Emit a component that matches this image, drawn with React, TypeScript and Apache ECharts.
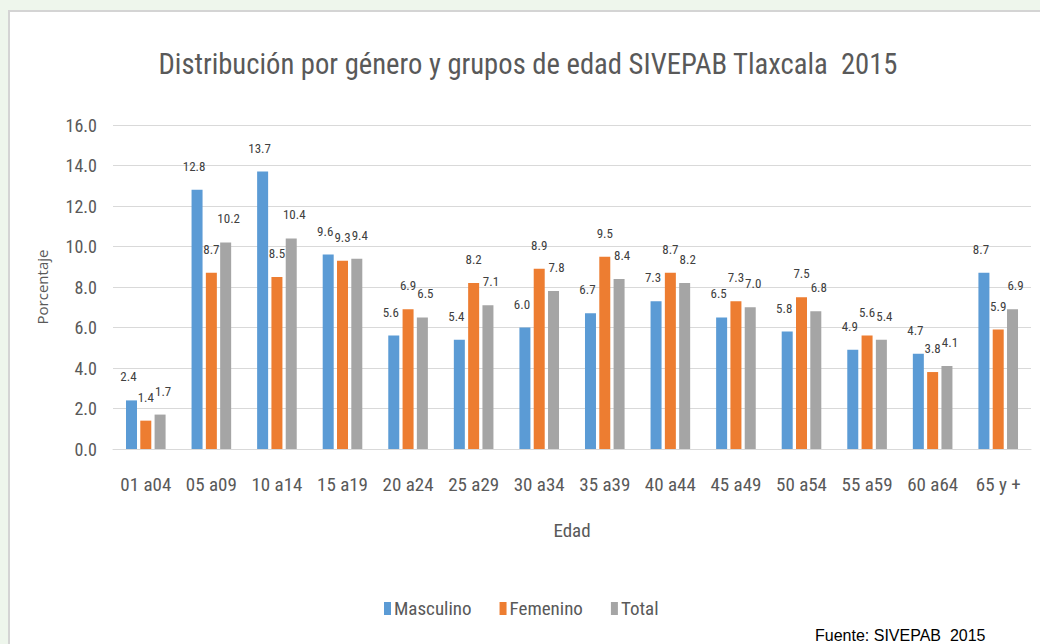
import React, { useEffect, useRef } from "react";
import * as echarts from "echarts";

const categories = ["01 a04", "05 a09", "10 a14", "15 a19", "20 a24", "25 a29", "30 a34", "35 a39", "40 a44", "45 a49", "50 a54", "55 a59", "60 a64", "65 y +"];
const masculino = [2.4, 12.8, 13.7, 9.6, 5.6, 5.4, 6.0, 6.7, 7.3, 6.5, 5.8, 4.9, 4.7, 8.7];
const femenino = [1.4, 8.7, 8.5, 9.3, 6.9, 8.2, 8.9, 9.5, 8.7, 7.3, 7.5, 5.6, 3.8, 5.9];
const total = [1.7, 10.2, 10.4, 9.4, 6.5, 7.1, 7.8, 8.4, 8.2, 7.0, 6.8, 5.4, 4.1, 6.9];
const seriesNames = ["Masculino", "Femenino", "Total"];
const colors = ["#5B9BD5", "#ED7D31", "#A5A5A5"];
const titleText = "Distribución por género y grupos de edad SIVEPAB Tlaxcala  2015";
const sourceText = "Fuente: SIVEPAB  2015";

const NARROW = "'Roboto Condensed', 'DejaVu Sans Condensed', sans-serif";

export default function App() {
  const ref = useRef<HTMLDivElement>(null);
  useEffect(() => {
    document.body.style.margin = "0";
    const chart = echarts.init(ref.current!, null, { renderer: "svg" });

    const titleSize = 30;
    let titleScale = 1;
    const ctx = document.createElement("canvas").getContext("2d");
    if (ctx) {
      ctx.font = `${titleSize}px 'Roboto Condensed'`;
      const w = ctx.measureText(titleText).width;
      if (w > 0) titleScale = 740 / w;
    }

    const mk = (name: string, data: number[], color: string, dx: number) => ({
      name,
      type: "bar",
      data,
      barWidth: 11,
      barGap: "30%",
      itemStyle: { color },
      label: {
        show: true,
        position: "top",
        distance: 17,
        offset: [dx, 0],
        formatter: (p: any) => p.value.toFixed(1),
        fontFamily: NARROW,
        fontSize: 13,
        color: "#404040",
      },
    });
    chart.setOption({
      animation: false,
      legend: {
        data: seriesNames,
        left: 379,
        top: 594,
        itemWidth: 7,
        itemHeight: 13,
        itemGap: 28,
        icon: "rect",
        textStyle: { fontFamily: NARROW, fontSize: 19, color: "#595959", padding: [0, 0, 0, -2] },
      },
      grid: { left: 113, right: 9, top: 125, bottom: 195, containLabel: false },
      xAxis: {
        type: "category",
        data: categories,
        name: "Edad",
        nameLocation: "middle",
        nameGap: 72,
        nameTextStyle: { fontFamily: NARROW, fontSize: 19, color: "#595959" },
        axisLine: { lineStyle: { color: "#d9d9d9" } },
        axisTick: { show: false },
        axisLabel: { interval: 0, fontFamily: NARROW, fontSize: 19, color: "#595959", margin: 26 },
      },
      yAxis: {
        type: "value",
        min: 0,
        max: 16,
        interval: 2,
        name: "Porcentaje",
        nameLocation: "middle",
        nameGap: 64,
        nameRotate: 90,
        nameTextStyle: { fontFamily: "'Open Sans', sans-serif", fontSize: 15, color: "#595959" },
        axisLine: { show: false },
        axisTick: { show: false },
        splitLine: { lineStyle: { color: "#d9d9d9", width: 1 } },
        axisLabel: {
          fontFamily: NARROW,
          fontSize: 18,
          color: "#595959",
          margin: 16,
          formatter: (v: number) => v.toFixed(1),
        },
      },
      graphic: [
        {
          type: "text",
          x: 528,
          y: 64,
          scaleX: titleScale,
          style: {
            text: titleText,
            align: "center",
            verticalAlign: "middle",
            fontFamily: "'Roboto Condensed', sans-serif",
            fontSize: titleSize,
            fill: "#595959",
          },
        },
        {
          type: "text",
          left: 815,
          top: 627,
          style: { text: sourceText, fontFamily: "'Liberation Sans', Arial, sans-serif", fontSize: 16, fill: "#000" },
        },
      ],
      series: [
        mk(seriesNames[0], masculino, colors[0], -3),
        mk(seriesNames[1], femenino, colors[1], 0),
        mk(seriesNames[2], total, colors[2], 3),
      ],
    });
    return () => chart.dispose();
  }, []);
  return (
    <div style={{ position: "relative", width: 1040, height: 644, background: "#eef6ec", overflow: "hidden" }}>
      <div
        style={{
          position: "absolute",
          left: 8,
          top: 10,
          width: 1100,
          height: 700,
          background: "#ffffff",
          borderLeft: "2px solid #d4d4d4",
          borderTop: "2px solid #d4d4d4",
        }}
      />
      <div ref={ref} style={{ position: "absolute", left: 0, top: 0, width: 1040, height: 644 }} />
    </div>
  );
}
